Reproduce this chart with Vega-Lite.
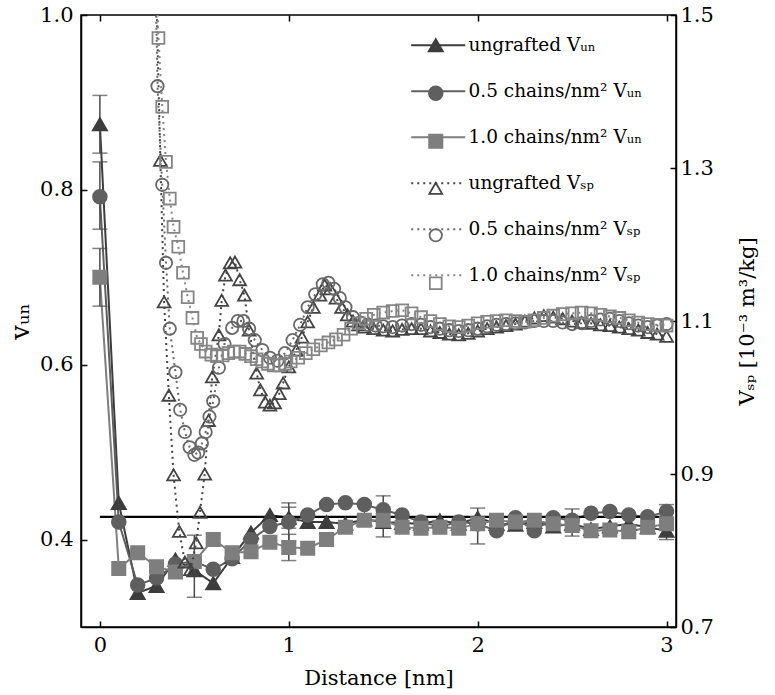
{
"$schema": "https://vega.github.io/schema/vega-lite/v6.json",
"width": 595, "height": 612, "autosize": "none",
"padding": {"left": 81, "top": 15, "right": 99, "bottom": 68},
"background": "white",
"config": {
  "font": "DejaVu Serif",
  "view": {"stroke": "black", "strokeWidth": 1.5},
  "axis": {"labelFont": "DejaVu Serif", "labelFontSize": 21, "labelColor": "black", "titleFont": "DejaVu Serif", "titleFontSize": 21, "titleFontWeight": "normal", "titleColor": "black", "domainColor": "black", "domainWidth": 1.5, "tickColor": "black", "tickWidth": 1.5, "tickSize": -6, "grid": false},
  "legend": {"labelFont": "DejaVu Serif", "labelFontSize": 18.5, "labelColor": "black"}
},
"datasets": {
  "un": [
    {"d":0.0,"v":0.875,"series":"ungrafted Vᵤₙ","m":"1"},{"d":0.1,"v":0.442,"series":"ungrafted Vᵤₙ","m":"1"},{"d":0.2,"v":0.339,"series":"ungrafted Vᵤₙ","m":"1"},{"d":0.3,"v":0.347,"series":"ungrafted Vᵤₙ","m":"1"},{"d":0.4,"v":0.377,"series":"ungrafted Vᵤₙ","m":"1"},{"d":0.5,"v":0.365,"series":"ungrafted Vᵤₙ","m":"1"},{"d":0.6,"v":0.35,"series":"ungrafted Vᵤₙ","m":"1"},{"d":0.7,"v":0.38,"series":"ungrafted Vᵤₙ","m":"1"},{"d":0.8,"v":0.408,"series":"ungrafted Vᵤₙ","m":"1"},{"d":0.9,"v":0.428,"series":"ungrafted Vᵤₙ","m":"1"},{"d":1.0,"v":0.425,"series":"ungrafted Vᵤₙ","m":"1"},{"d":1.1,"v":0.42,"series":"ungrafted Vᵤₙ","m":"1"},{"d":1.2,"v":0.42,"series":"ungrafted Vᵤₙ","m":"1"},{"d":1.3,"v":0.418,"series":"ungrafted Vᵤₙ","m":"1"},{"d":1.4,"v":0.423,"series":"ungrafted Vᵤₙ","m":"1"},{"d":1.5,"v":0.42,"series":"ungrafted Vᵤₙ","m":"1"},{"d":1.6,"v":0.419,"series":"ungrafted Vᵤₙ","m":"1"},{"d":1.7,"v":0.418,"series":"ungrafted Vᵤₙ","m":"1"},{"d":1.8,"v":0.422,"series":"ungrafted Vᵤₙ","m":"1"},{"d":1.9,"v":0.418,"series":"ungrafted Vᵤₙ","m":"1"},{"d":2.0,"v":0.425,"series":"ungrafted Vᵤₙ","m":"1"},{"d":2.1,"v":0.418,"series":"ungrafted Vᵤₙ","m":"1"},{"d":2.2,"v":0.417,"series":"ungrafted Vᵤₙ","m":"1"},{"d":2.3,"v":0.42,"series":"ungrafted Vᵤₙ","m":"1"},{"d":2.4,"v":0.415,"series":"ungrafted Vᵤₙ","m":"1"},{"d":2.5,"v":0.418,"series":"ungrafted Vᵤₙ","m":"1"},{"d":2.6,"v":0.412,"series":"ungrafted Vᵤₙ","m":"1"},{"d":2.7,"v":0.415,"series":"ungrafted Vᵤₙ","m":"1"},{"d":2.8,"v":0.418,"series":"ungrafted Vᵤₙ","m":"1"},{"d":2.9,"v":0.414,"series":"ungrafted Vᵤₙ","m":"1"},{"d":3.0,"v":0.41,"series":"ungrafted Vᵤₙ","m":"1"},
    {"d":0.0,"v":0.792,"series":"0.5 chains/nm² Vᵤₙ","m":"2"},{"d":0.1,"v":0.42,"series":"0.5 chains/nm² Vᵤₙ","m":"2"},{"d":0.2,"v":0.348,"series":"0.5 chains/nm² Vᵤₙ","m":"2"},{"d":0.3,"v":0.356,"series":"0.5 chains/nm² Vᵤₙ","m":"2"},{"d":0.4,"v":0.372,"series":"0.5 chains/nm² Vᵤₙ","m":"2"},{"d":0.5,"v":0.375,"series":"0.5 chains/nm² Vᵤₙ","m":"2"},{"d":0.6,"v":0.366,"series":"0.5 chains/nm² Vᵤₙ","m":"2"},{"d":0.7,"v":0.378,"series":"0.5 chains/nm² Vᵤₙ","m":"2"},{"d":0.8,"v":0.4,"series":"0.5 chains/nm² Vᵤₙ","m":"2"},{"d":0.9,"v":0.415,"series":"0.5 chains/nm² Vᵤₙ","m":"2"},{"d":1.0,"v":0.42,"series":"0.5 chains/nm² Vᵤₙ","m":"2"},{"d":1.1,"v":0.428,"series":"0.5 chains/nm² Vᵤₙ","m":"2"},{"d":1.2,"v":0.44,"series":"0.5 chains/nm² Vᵤₙ","m":"2"},{"d":1.3,"v":0.442,"series":"0.5 chains/nm² Vᵤₙ","m":"2"},{"d":1.4,"v":0.44,"series":"0.5 chains/nm² Vᵤₙ","m":"2"},{"d":1.5,"v":0.434,"series":"0.5 chains/nm² Vᵤₙ","m":"2"},{"d":1.6,"v":0.428,"series":"0.5 chains/nm² Vᵤₙ","m":"2"},{"d":1.7,"v":0.42,"series":"0.5 chains/nm² Vᵤₙ","m":"2"},{"d":1.8,"v":0.415,"series":"0.5 chains/nm² Vᵤₙ","m":"2"},{"d":1.9,"v":0.42,"series":"0.5 chains/nm² Vᵤₙ","m":"2"},{"d":2.0,"v":0.418,"series":"0.5 chains/nm² Vᵤₙ","m":"2"},{"d":2.1,"v":0.41,"series":"0.5 chains/nm² Vᵤₙ","m":"2"},{"d":2.2,"v":0.425,"series":"0.5 chains/nm² Vᵤₙ","m":"2"},{"d":2.3,"v":0.41,"series":"0.5 chains/nm² Vᵤₙ","m":"2"},{"d":2.4,"v":0.425,"series":"0.5 chains/nm² Vᵤₙ","m":"2"},{"d":2.5,"v":0.422,"series":"0.5 chains/nm² Vᵤₙ","m":"2"},{"d":2.6,"v":0.43,"series":"0.5 chains/nm² Vᵤₙ","m":"2"},{"d":2.7,"v":0.432,"series":"0.5 chains/nm² Vᵤₙ","m":"2"},{"d":2.8,"v":0.428,"series":"0.5 chains/nm² Vᵤₙ","m":"2"},{"d":2.9,"v":0.426,"series":"0.5 chains/nm² Vᵤₙ","m":"2"},{"d":3.0,"v":0.432,"series":"0.5 chains/nm² Vᵤₙ","m":"2"},
    {"d":0.0,"v":0.7,"series":"1.0 chains/nm² Vᵤₙ","m":"3"},{"d":0.1,"v":0.367,"series":"1.0 chains/nm² Vᵤₙ","m":"3"},{"d":0.2,"v":0.385,"series":"1.0 chains/nm² Vᵤₙ","m":"3"},{"d":0.3,"v":0.369,"series":"1.0 chains/nm² Vᵤₙ","m":"3"},{"d":0.4,"v":0.363,"series":"1.0 chains/nm² Vᵤₙ","m":"3"},{"d":0.5,"v":0.375,"series":"1.0 chains/nm² Vᵤₙ","m":"3"},{"d":0.6,"v":0.4,"series":"1.0 chains/nm² Vᵤₙ","m":"3"},{"d":0.7,"v":0.385,"series":"1.0 chains/nm² Vᵤₙ","m":"3"},{"d":0.8,"v":0.386,"series":"1.0 chains/nm² Vᵤₙ","m":"3"},{"d":0.9,"v":0.397,"series":"1.0 chains/nm² Vᵤₙ","m":"3"},{"d":1.0,"v":0.391,"series":"1.0 chains/nm² Vᵤₙ","m":"3"},{"d":1.1,"v":0.39,"series":"1.0 chains/nm² Vᵤₙ","m":"3"},{"d":1.2,"v":0.4,"series":"1.0 chains/nm² Vᵤₙ","m":"3"},{"d":1.3,"v":0.414,"series":"1.0 chains/nm² Vᵤₙ","m":"3"},{"d":1.4,"v":0.422,"series":"1.0 chains/nm² Vᵤₙ","m":"3"},{"d":1.5,"v":0.422,"series":"1.0 chains/nm² Vᵤₙ","m":"3"},{"d":1.6,"v":0.414,"series":"1.0 chains/nm² Vᵤₙ","m":"3"},{"d":1.7,"v":0.413,"series":"1.0 chains/nm² Vᵤₙ","m":"3"},{"d":1.8,"v":0.414,"series":"1.0 chains/nm² Vᵤₙ","m":"3"},{"d":1.9,"v":0.413,"series":"1.0 chains/nm² Vᵤₙ","m":"3"},{"d":2.0,"v":0.418,"series":"1.0 chains/nm² Vᵤₙ","m":"3"},{"d":2.1,"v":0.422,"series":"1.0 chains/nm² Vᵤₙ","m":"3"},{"d":2.2,"v":0.42,"series":"1.0 chains/nm² Vᵤₙ","m":"3"},{"d":2.3,"v":0.422,"series":"1.0 chains/nm² Vᵤₙ","m":"3"},{"d":2.4,"v":0.418,"series":"1.0 chains/nm² Vᵤₙ","m":"3"},{"d":2.5,"v":0.416,"series":"1.0 chains/nm² Vᵤₙ","m":"3"},{"d":2.6,"v":0.41,"series":"1.0 chains/nm² Vᵤₙ","m":"3"},{"d":2.7,"v":0.411,"series":"1.0 chains/nm² Vᵤₙ","m":"3"},{"d":2.8,"v":0.409,"series":"1.0 chains/nm² Vᵤₙ","m":"3"},{"d":2.9,"v":0.414,"series":"1.0 chains/nm² Vᵤₙ","m":"3"},{"d":3.0,"v":0.418,"series":"1.0 chains/nm² Vᵤₙ","m":"3"}
  ],
  "err": [
    {"d":0.0,"lo":0.842,"hi":0.908},{"d":0.0,"lo":0.755,"hi":0.832},{"d":0.0,"lo":0.667,"hi":0.733},
    {"d":0.5,"lo":0.334,"hi":0.405},
    {"d":1.0,"lo":0.413,"hi":0.437},{"d":1.0,"lo":0.398,"hi":0.442},{"d":1.0,"lo":0.376,"hi":0.406},
    {"d":1.5,"lo":0.403,"hi":0.45},{"d":2.0,"lo":0.395,"hi":0.436},{"d":2.5,"lo":0.404,"hi":0.435},{"d":3.0,"lo":0.4,"hi":0.44}
  ],
  "ref": [{"d":0.0,"v":0.426},{"d":3.0,"v":0.426}],
  "sp": [
    {"d":0.29,"V":1.62,"series":"ungrafted Vₛₚ","m":"4"},{"d":0.32,"V":1.31,"series":"ungrafted Vₛₚ","m":"4"},{"d":0.34,"V":1.125,"series":"ungrafted Vₛₚ","m":"4"},{"d":0.365,"V":1.003,"series":"ungrafted Vₛₚ","m":"4"},{"d":0.39,"V":0.899,"series":"ungrafted Vₛₚ","m":"4"},{"d":0.42,"V":0.825,"series":"ungrafted Vₛₚ","m":"4"},{"d":0.45,"V":0.785,"series":"ungrafted Vₛₚ","m":"4"},{"d":0.48,"V":0.775,"series":"ungrafted Vₛₚ","m":"4"},{"d":0.51,"V":0.81,"series":"ungrafted Vₛₚ","m":"4"},{"d":0.53,"V":0.85,"series":"ungrafted Vₛₚ","m":"4"},{"d":0.555,"V":0.9,"series":"ungrafted Vₛₚ","m":"4"},{"d":0.575,"V":0.97,"series":"ungrafted Vₛₚ","m":"4"},{"d":0.595,"V":1.027,"series":"ungrafted Vₛₚ","m":"4"},{"d":0.63,"V":1.082,"series":"ungrafted Vₛₚ","m":"4"},{"d":0.645,"V":1.127,"series":"ungrafted Vₛₚ","m":"4"},{"d":0.665,"V":1.16,"series":"ungrafted Vₛₚ","m":"4"},{"d":0.69,"V":1.176,"series":"ungrafted Vₛₚ","m":"4"},{"d":0.715,"V":1.177,"series":"ungrafted Vₛₚ","m":"4"},{"d":0.74,"V":1.154,"series":"ungrafted Vₛₚ","m":"4"},{"d":0.765,"V":1.134,"series":"ungrafted Vₛₚ","m":"4"},{"d":0.79,"V":1.088,"series":"ungrafted Vₛₚ","m":"4"},{"d":0.83,"V":1.032,"series":"ungrafted Vₛₚ","m":"4"},{"d":0.85,"V":1.01,"series":"ungrafted Vₛₚ","m":"4"},{"d":0.875,"V":0.994,"series":"ungrafted Vₛₚ","m":"4"},{"d":0.9,"V":0.99,"series":"ungrafted Vₛₚ","m":"4"},{"d":0.925,"V":0.993,"series":"ungrafted Vₛₚ","m":"4"},{"d":0.95,"V":1.005,"series":"ungrafted Vₛₚ","m":"4"},{"d":0.97,"V":1.019,"series":"ungrafted Vₛₚ","m":"4"},{"d":1.0,"V":1.04,"series":"ungrafted Vₛₚ","m":"4"},{"d":1.04,"V":1.062,"series":"ungrafted Vₛₚ","m":"4"},{"d":1.07,"V":1.079,"series":"ungrafted Vₛₚ","m":"4"},{"d":1.1,"V":1.099,"series":"ungrafted Vₛₚ","m":"4"},{"d":1.13,"V":1.118,"series":"ungrafted Vₛₚ","m":"4"},{"d":1.165,"V":1.134,"series":"ungrafted Vₛₚ","m":"4"},{"d":1.19,"V":1.147,"series":"ungrafted Vₛₚ","m":"4"},{"d":1.22,"V":1.142,"series":"ungrafted Vₛₚ","m":"4"},{"d":1.25,"V":1.13,"series":"ungrafted Vₛₚ","m":"4"},{"d":1.28,"V":1.118,"series":"ungrafted Vₛₚ","m":"4"},{"d":1.31,"V":1.108,"series":"ungrafted Vₛₚ","m":"4"},{"d":1.34,"V":1.1,"series":"ungrafted Vₛₚ","m":"4"},{"d":1.37,"V":1.095,"series":"ungrafted Vₛₚ","m":"4"},{"d":1.4,"V":1.092,"series":"ungrafted Vₛₚ","m":"4"},{"d":1.45,"V":1.09,"series":"ungrafted Vₛₚ","m":"4"},{"d":1.5,"V":1.088,"series":"ungrafted Vₛₚ","m":"4"},{"d":1.55,"V":1.087,"series":"ungrafted Vₛₚ","m":"4"},{"d":1.6,"V":1.089,"series":"ungrafted Vₛₚ","m":"4"},{"d":1.65,"V":1.09,"series":"ungrafted Vₛₚ","m":"4"},{"d":1.7,"V":1.09,"series":"ungrafted Vₛₚ","m":"4"},{"d":1.75,"V":1.087,"series":"ungrafted Vₛₚ","m":"4"},{"d":1.8,"V":1.085,"series":"ungrafted Vₛₚ","m":"4"},{"d":1.85,"V":1.083,"series":"ungrafted Vₛₚ","m":"4"},{"d":1.9,"V":1.082,"series":"ungrafted Vₛₚ","m":"4"},{"d":1.95,"V":1.084,"series":"ungrafted Vₛₚ","m":"4"},{"d":2.0,"V":1.087,"series":"ungrafted Vₛₚ","m":"4"},{"d":2.05,"V":1.09,"series":"ungrafted Vₛₚ","m":"4"},{"d":2.1,"V":1.092,"series":"ungrafted Vₛₚ","m":"4"},{"d":2.15,"V":1.094,"series":"ungrafted Vₛₚ","m":"4"},{"d":2.2,"V":1.096,"series":"ungrafted Vₛₚ","m":"4"},{"d":2.25,"V":1.1,"series":"ungrafted Vₛₚ","m":"4"},{"d":2.3,"V":1.104,"series":"ungrafted Vₛₚ","m":"4"},{"d":2.35,"V":1.107,"series":"ungrafted Vₛₚ","m":"4"},{"d":2.4,"V":1.105,"series":"ungrafted Vₛₚ","m":"4"},{"d":2.45,"V":1.103,"series":"ungrafted Vₛₚ","m":"4"},{"d":2.5,"V":1.1,"series":"ungrafted Vₛₚ","m":"4"},{"d":2.55,"V":1.098,"series":"ungrafted Vₛₚ","m":"4"},{"d":2.6,"V":1.097,"series":"ungrafted Vₛₚ","m":"4"},{"d":2.65,"V":1.095,"series":"ungrafted Vₛₚ","m":"4"},{"d":2.7,"V":1.094,"series":"ungrafted Vₛₚ","m":"4"},{"d":2.75,"V":1.092,"series":"ungrafted Vₛₚ","m":"4"},{"d":2.8,"V":1.09,"series":"ungrafted Vₛₚ","m":"4"},{"d":2.85,"V":1.088,"series":"ungrafted Vₛₚ","m":"4"},{"d":2.9,"V":1.085,"series":"ungrafted Vₛₚ","m":"4"},{"d":2.95,"V":1.083,"series":"ungrafted Vₛₚ","m":"4"},{"d":3.0,"V":1.08,"series":"ungrafted Vₛₚ","m":"4"},
    {"d":0.28,"V":1.75,"series":"0.5 chains/nm² Vₛₚ","m":"5"},{"d":0.305,"V":1.407,"series":"0.5 chains/nm² Vₛₚ","m":"5"},{"d":0.33,"V":1.278,"series":"0.5 chains/nm² Vₛₚ","m":"5"},{"d":0.35,"V":1.176,"series":"0.5 chains/nm² Vₛₚ","m":"5"},{"d":0.37,"V":1.09,"series":"0.5 chains/nm² Vₛₚ","m":"5"},{"d":0.4,"V":1.033,"series":"0.5 chains/nm² Vₛₚ","m":"5"},{"d":0.425,"V":0.984,"series":"0.5 chains/nm² Vₛₚ","m":"5"},{"d":0.45,"V":0.955,"series":"0.5 chains/nm² Vₛₚ","m":"5"},{"d":0.475,"V":0.935,"series":"0.5 chains/nm² Vₛₚ","m":"5"},{"d":0.5,"V":0.925,"series":"0.5 chains/nm² Vₛₚ","m":"5"},{"d":0.52,"V":0.928,"series":"0.5 chains/nm² Vₛₚ","m":"5"},{"d":0.54,"V":0.94,"series":"0.5 chains/nm² Vₛₚ","m":"5"},{"d":0.56,"V":0.955,"series":"0.5 chains/nm² Vₛₚ","m":"5"},{"d":0.58,"V":0.975,"series":"0.5 chains/nm² Vₛₚ","m":"5"},{"d":0.6,"V":0.995,"series":"0.5 chains/nm² Vₛₚ","m":"5"},{"d":0.63,"V":1.039,"series":"0.5 chains/nm² Vₛₚ","m":"5"},{"d":0.66,"V":1.07,"series":"0.5 chains/nm² Vₛₚ","m":"5"},{"d":0.7,"V":1.091,"series":"0.5 chains/nm² Vₛₚ","m":"5"},{"d":0.73,"V":1.1,"series":"0.5 chains/nm² Vₛₚ","m":"5"},{"d":0.76,"V":1.1,"series":"0.5 chains/nm² Vₛₚ","m":"5"},{"d":0.79,"V":1.09,"series":"0.5 chains/nm² Vₛₚ","m":"5"},{"d":0.82,"V":1.075,"series":"0.5 chains/nm² Vₛₚ","m":"5"},{"d":0.86,"V":1.062,"series":"0.5 chains/nm² Vₛₚ","m":"5"},{"d":0.9,"V":1.052,"series":"0.5 chains/nm² Vₛₚ","m":"5"},{"d":0.94,"V":1.048,"series":"0.5 chains/nm² Vₛₚ","m":"5"},{"d":0.98,"V":1.058,"series":"0.5 chains/nm² Vₛₚ","m":"5"},{"d":1.02,"V":1.075,"series":"0.5 chains/nm² Vₛₚ","m":"5"},{"d":1.06,"V":1.095,"series":"0.5 chains/nm² Vₛₚ","m":"5"},{"d":1.1,"V":1.118,"series":"0.5 chains/nm² Vₛₚ","m":"5"},{"d":1.14,"V":1.135,"series":"0.5 chains/nm² Vₛₚ","m":"5"},{"d":1.18,"V":1.148,"series":"0.5 chains/nm² Vₛₚ","m":"5"},{"d":1.21,"V":1.15,"series":"0.5 chains/nm² Vₛₚ","m":"5"},{"d":1.24,"V":1.142,"series":"0.5 chains/nm² Vₛₚ","m":"5"},{"d":1.27,"V":1.13,"series":"0.5 chains/nm² Vₛₚ","m":"5"},{"d":1.3,"V":1.118,"series":"0.5 chains/nm² Vₛₚ","m":"5"},{"d":1.34,"V":1.105,"series":"0.5 chains/nm² Vₛₚ","m":"5"},{"d":1.38,"V":1.098,"series":"0.5 chains/nm² Vₛₚ","m":"5"},{"d":1.42,"V":1.095,"series":"0.5 chains/nm² Vₛₚ","m":"5"},{"d":1.46,"V":1.094,"series":"0.5 chains/nm² Vₛₚ","m":"5"},{"d":1.5,"V":1.093,"series":"0.5 chains/nm² Vₛₚ","m":"5"},{"d":1.55,"V":1.092,"series":"0.5 chains/nm² Vₛₚ","m":"5"},{"d":1.6,"V":1.094,"series":"0.5 chains/nm² Vₛₚ","m":"5"},{"d":1.65,"V":1.096,"series":"0.5 chains/nm² Vₛₚ","m":"5"},{"d":1.7,"V":1.095,"series":"0.5 chains/nm² Vₛₚ","m":"5"},{"d":1.75,"V":1.092,"series":"0.5 chains/nm² Vₛₚ","m":"5"},{"d":1.8,"V":1.09,"series":"0.5 chains/nm² Vₛₚ","m":"5"},{"d":1.85,"V":1.088,"series":"0.5 chains/nm² Vₛₚ","m":"5"},{"d":1.9,"V":1.087,"series":"0.5 chains/nm² Vₛₚ","m":"5"},{"d":1.95,"V":1.088,"series":"0.5 chains/nm² Vₛₚ","m":"5"},{"d":2.0,"V":1.09,"series":"0.5 chains/nm² Vₛₚ","m":"5"},{"d":2.05,"V":1.093,"series":"0.5 chains/nm² Vₛₚ","m":"5"},{"d":2.1,"V":1.095,"series":"0.5 chains/nm² Vₛₚ","m":"5"},{"d":2.15,"V":1.096,"series":"0.5 chains/nm² Vₛₚ","m":"5"},{"d":2.2,"V":1.097,"series":"0.5 chains/nm² Vₛₚ","m":"5"},{"d":2.25,"V":1.098,"series":"0.5 chains/nm² Vₛₚ","m":"5"},{"d":2.3,"V":1.1,"series":"0.5 chains/nm² Vₛₚ","m":"5"},{"d":2.35,"V":1.1,"series":"0.5 chains/nm² Vₛₚ","m":"5"},{"d":2.4,"V":1.1,"series":"0.5 chains/nm² Vₛₚ","m":"5"},{"d":2.45,"V":1.098,"series":"0.5 chains/nm² Vₛₚ","m":"5"},{"d":2.5,"V":1.096,"series":"0.5 chains/nm² Vₛₚ","m":"5"},{"d":2.55,"V":1.097,"series":"0.5 chains/nm² Vₛₚ","m":"5"},{"d":2.6,"V":1.1,"series":"0.5 chains/nm² Vₛₚ","m":"5"},{"d":2.65,"V":1.102,"series":"0.5 chains/nm² Vₛₚ","m":"5"},{"d":2.7,"V":1.103,"series":"0.5 chains/nm² Vₛₚ","m":"5"},{"d":2.75,"V":1.1,"series":"0.5 chains/nm² Vₛₚ","m":"5"},{"d":2.8,"V":1.097,"series":"0.5 chains/nm² Vₛₚ","m":"5"},{"d":2.85,"V":1.094,"series":"0.5 chains/nm² Vₛₚ","m":"5"},{"d":2.9,"V":1.092,"series":"0.5 chains/nm² Vₛₚ","m":"5"},{"d":2.95,"V":1.094,"series":"0.5 chains/nm² Vₛₚ","m":"5"},{"d":3.0,"V":1.096,"series":"0.5 chains/nm² Vₛₚ","m":"5"},
    {"d":0.285,"V":1.65,"series":"1.0 chains/nm² Vₛₚ","m":"6"},{"d":0.31,"V":1.47,"series":"1.0 chains/nm² Vₛₚ","m":"6"},{"d":0.33,"V":1.38,"series":"1.0 chains/nm² Vₛₚ","m":"6"},{"d":0.35,"V":1.308,"series":"1.0 chains/nm² Vₛₚ","m":"6"},{"d":0.37,"V":1.26,"series":"1.0 chains/nm² Vₛₚ","m":"6"},{"d":0.39,"V":1.223,"series":"1.0 chains/nm² Vₛₚ","m":"6"},{"d":0.415,"V":1.197,"series":"1.0 chains/nm² Vₛₚ","m":"6"},{"d":0.44,"V":1.163,"series":"1.0 chains/nm² Vₛₚ","m":"6"},{"d":0.465,"V":1.131,"series":"1.0 chains/nm² Vₛₚ","m":"6"},{"d":0.49,"V":1.104,"series":"1.0 chains/nm² Vₛₚ","m":"6"},{"d":0.515,"V":1.078,"series":"1.0 chains/nm² Vₛₚ","m":"6"},{"d":0.535,"V":1.07,"series":"1.0 chains/nm² Vₛₚ","m":"6"},{"d":0.56,"V":1.06,"series":"1.0 chains/nm² Vₛₚ","m":"6"},{"d":0.59,"V":1.056,"series":"1.0 chains/nm² Vₛₚ","m":"6"},{"d":0.62,"V":1.054,"series":"1.0 chains/nm² Vₛₚ","m":"6"},{"d":0.65,"V":1.055,"series":"1.0 chains/nm² Vₛₚ","m":"6"},{"d":0.68,"V":1.058,"series":"1.0 chains/nm² Vₛₚ","m":"6"},{"d":0.71,"V":1.06,"series":"1.0 chains/nm² Vₛₚ","m":"6"},{"d":0.74,"V":1.06,"series":"1.0 chains/nm² Vₛₚ","m":"6"},{"d":0.77,"V":1.057,"series":"1.0 chains/nm² Vₛₚ","m":"6"},{"d":0.8,"V":1.054,"series":"1.0 chains/nm² Vₛₚ","m":"6"},{"d":0.83,"V":1.05,"series":"1.0 chains/nm² Vₛₚ","m":"6"},{"d":0.86,"V":1.047,"series":"1.0 chains/nm² Vₛₚ","m":"6"},{"d":0.89,"V":1.044,"series":"1.0 chains/nm² Vₛₚ","m":"6"},{"d":0.92,"V":1.042,"series":"1.0 chains/nm² Vₛₚ","m":"6"},{"d":0.95,"V":1.042,"series":"1.0 chains/nm² Vₛₚ","m":"6"},{"d":0.98,"V":1.044,"series":"1.0 chains/nm² Vₛₚ","m":"6"},{"d":1.01,"V":1.047,"series":"1.0 chains/nm² Vₛₚ","m":"6"},{"d":1.05,"V":1.052,"series":"1.0 chains/nm² Vₛₚ","m":"6"},{"d":1.09,"V":1.058,"series":"1.0 chains/nm² Vₛₚ","m":"6"},{"d":1.13,"V":1.063,"series":"1.0 chains/nm² Vₛₚ","m":"6"},{"d":1.17,"V":1.068,"series":"1.0 chains/nm² Vₛₚ","m":"6"},{"d":1.21,"V":1.072,"series":"1.0 chains/nm² Vₛₚ","m":"6"},{"d":1.25,"V":1.076,"series":"1.0 chains/nm² Vₛₚ","m":"6"},{"d":1.29,"V":1.082,"series":"1.0 chains/nm² Vₛₚ","m":"6"},{"d":1.33,"V":1.09,"series":"1.0 chains/nm² Vₛₚ","m":"6"},{"d":1.37,"V":1.097,"series":"1.0 chains/nm² Vₛₚ","m":"6"},{"d":1.41,"V":1.103,"series":"1.0 chains/nm² Vₛₚ","m":"6"},{"d":1.45,"V":1.108,"series":"1.0 chains/nm² Vₛₚ","m":"6"},{"d":1.5,"V":1.111,"series":"1.0 chains/nm² Vₛₚ","m":"6"},{"d":1.55,"V":1.113,"series":"1.0 chains/nm² Vₛₚ","m":"6"},{"d":1.6,"V":1.114,"series":"1.0 chains/nm² Vₛₚ","m":"6"},{"d":1.65,"V":1.11,"series":"1.0 chains/nm² Vₛₚ","m":"6"},{"d":1.7,"V":1.105,"series":"1.0 chains/nm² Vₛₚ","m":"6"},{"d":1.75,"V":1.1,"series":"1.0 chains/nm² Vₛₚ","m":"6"},{"d":1.8,"V":1.096,"series":"1.0 chains/nm² Vₛₚ","m":"6"},{"d":1.85,"V":1.093,"series":"1.0 chains/nm² Vₛₚ","m":"6"},{"d":1.9,"V":1.092,"series":"1.0 chains/nm² Vₛₚ","m":"6"},{"d":1.95,"V":1.094,"series":"1.0 chains/nm² Vₛₚ","m":"6"},{"d":2.0,"V":1.097,"series":"1.0 chains/nm² Vₛₚ","m":"6"},{"d":2.05,"V":1.099,"series":"1.0 chains/nm² Vₛₚ","m":"6"},{"d":2.1,"V":1.1,"series":"1.0 chains/nm² Vₛₚ","m":"6"},{"d":2.15,"V":1.101,"series":"1.0 chains/nm² Vₛₚ","m":"6"},{"d":2.2,"V":1.1,"series":"1.0 chains/nm² Vₛₚ","m":"6"},{"d":2.25,"V":1.099,"series":"1.0 chains/nm² Vₛₚ","m":"6"},{"d":2.3,"V":1.101,"series":"1.0 chains/nm² Vₛₚ","m":"6"},{"d":2.35,"V":1.104,"series":"1.0 chains/nm² Vₛₚ","m":"6"},{"d":2.4,"V":1.107,"series":"1.0 chains/nm² Vₛₚ","m":"6"},{"d":2.45,"V":1.109,"series":"1.0 chains/nm² Vₛₚ","m":"6"},{"d":2.5,"V":1.11,"series":"1.0 chains/nm² Vₛₚ","m":"6"},{"d":2.55,"V":1.111,"series":"1.0 chains/nm² Vₛₚ","m":"6"},{"d":2.6,"V":1.11,"series":"1.0 chains/nm² Vₛₚ","m":"6"},{"d":2.65,"V":1.108,"series":"1.0 chains/nm² Vₛₚ","m":"6"},{"d":2.7,"V":1.106,"series":"1.0 chains/nm² Vₛₚ","m":"6"},{"d":2.75,"V":1.104,"series":"1.0 chains/nm² Vₛₚ","m":"6"},{"d":2.8,"V":1.101,"series":"1.0 chains/nm² Vₛₚ","m":"6"},{"d":2.85,"V":1.098,"series":"1.0 chains/nm² Vₛₚ","m":"6"},{"d":2.9,"V":1.096,"series":"1.0 chains/nm² Vₛₚ","m":"6"},{"d":2.95,"V":1.095,"series":"1.0 chains/nm² Vₛₚ","m":"6"},{"d":3.0,"V":1.094,"series":"1.0 chains/nm² Vₛₚ","m":"6"}
  ]
},
"layer": [
  {
    "layer": [
      {
        "data": {"name": "un"},
        "mark": {"type": "line", "strokeWidth": 2},
        "encoding": {
          "x": {"field": "d", "type": "quantitative", "title": "Distance [nm]", "scale": {"domain": [-0.1, 3.05], "nice": false, "zero": false}, "axis": {"orient": "bottom", "values": [0, 1, 2, 3], "format": "d", "labelPadding": 13, "titlePadding": 12}},
          "y": {"field": "v", "type": "quantitative", "title": "vᵤₙ", "scale": {"domain": [0.3, 1.0], "nice": false, "zero": false}, "axis": {"orient": "left", "values": [0.4, 0.6, 0.8, 1.0], "format": ".1f", "labelPadding": 14, "titlePadding": 6, "titleFontSize": 26}},
          "color": {"field": "series", "type": "nominal", "scale": {"domain": ["ungrafted Vᵤₙ", "0.5 chains/nm² Vᵤₙ", "1.0 chains/nm² Vᵤₙ", "ungrafted Vₛₚ", "0.5 chains/nm² Vₛₚ", "1.0 chains/nm² Vₛₚ"], "range": ["#3d3d3d", "#5f5f5f", "#7e7e7e", "#444444", "#686868", "#858585"]}, "legend": {"orient": "none", "legendX": 348, "legendY": 21, "title": null, "padding": 0, "symbolType": "M-5.4,0H5.4", "symbolSize": 100, "symbolStrokeWidth": 2, "labelOffset": 21, "rowPadding": 27, "labelLimit": 400}},
          "strokeDash": {"field": "series", "type": "nominal", "scale": {"domain": ["ungrafted Vᵤₙ", "0.5 chains/nm² Vᵤₙ", "1.0 chains/nm² Vᵤₙ", "ungrafted Vₛₚ", "0.5 chains/nm² Vₛₚ", "1.0 chains/nm² Vₛₚ"], "range": [[1, 0], [1, 0], [1, 0], [2, 4], [2, 4], [2, 4]]}}
        }
      },
      {
        "data": {"name": "err"},
        "mark": {"type": "errorbar", "ticks": {"size": 15}, "color": "#4a4a4a", "thickness": 1.5},
        "encoding": {
          "x": {"field": "d", "type": "quantitative", "title": "Distance [nm]"},
          "y": {"field": "lo", "type": "quantitative", "title": "vᵤₙ"},
          "y2": {"field": "hi"}
        }
      },
      {
        "data": {"name": "ref"},
        "mark": {"type": "line", "color": "black", "strokeWidth": 2.2},
        "encoding": {
          "x": {"field": "d", "type": "quantitative", "title": "Distance [nm]"},
          "y": {"field": "v", "type": "quantitative", "title": "vᵤₙ"}
        }
      },
      {
        "data": {"name": "un"},
        "mark": {"type": "point", "filled": true, "strokeWidth": 1.8, "opacity": 1},
        "encoding": {
          "x": {"field": "d", "type": "quantitative", "title": "Distance [nm]"},
          "y": {"field": "v", "type": "quantitative", "title": "vᵤₙ"},
          "shape": {"field": "m", "type": "nominal", "scale": {"domain": ["1", "2", "3", "4", "5", "6"], "range": ["triangle-up", "circle", "square", "triangle-up", "circle", "square"]}, "legend": {"orient": "none", "legendX": 345.5, "legendY": 21, "title": null, "padding": 0, "labelOpacity": 0, "rowPadding": 27, "symbolStrokeWidth": 1.8}},
          "fill": {"field": "m", "type": "nominal", "scale": {"domain": ["1", "2", "3", "4", "5", "6"], "range": ["#3d3d3d", "#5f5f5f", "#7e7e7e", "transparent", "transparent", "transparent"]}},
          "stroke": {"field": "m", "type": "nominal", "scale": {"domain": ["1", "2", "3", "4", "5", "6"], "range": ["#3d3d3d", "#5f5f5f", "#7e7e7e", "#444444", "#686868", "#858585"]}},
          "size": {"field": "m", "type": "nominal", "scale": {"domain": ["1", "2", "3", "4", "5", "6"], "range": [200, 140, 190, 160, 100, 125]}}
        }
      }
    ]
  },
  {
    "layer": [
      {
        "data": {"name": "sp"},
        "mark": {"type": "line", "strokeWidth": 2, "clip": true},
        "encoding": {
          "x": {"field": "d", "type": "quantitative", "scale": {"domain": [-0.1, 3.05], "nice": false, "zero": false}, "axis": {"orient": "top", "values": [0, 1, 2, 3], "labels": false, "title": null, "domain": false}},
          "y": {"field": "V", "type": "quantitative", "title": "Vₛₚ [10⁻³ m³/kg]", "scale": {"domain": [0.7, 1.5], "nice": false, "zero": false}, "axis": {"orient": "right", "values": [0.7, 0.9, 1.1, 1.3, 1.5], "format": ".1f", "labelPadding": 10, "titlePadding": 44, "titleAngle": 270}},
          "color": {"field": "series", "type": "nominal", "scale": {"domain": ["ungrafted Vᵤₙ", "0.5 chains/nm² Vᵤₙ", "1.0 chains/nm² Vᵤₙ", "ungrafted Vₛₚ", "0.5 chains/nm² Vₛₚ", "1.0 chains/nm² Vₛₚ"], "range": ["#3d3d3d", "#5f5f5f", "#7e7e7e", "#444444", "#686868", "#858585"]}},
          "strokeDash": {"field": "series", "type": "nominal", "scale": {"domain": ["ungrafted Vᵤₙ", "0.5 chains/nm² Vᵤₙ", "1.0 chains/nm² Vᵤₙ", "ungrafted Vₛₚ", "0.5 chains/nm² Vₛₚ", "1.0 chains/nm² Vₛₚ"], "range": [[1, 0], [1, 0], [1, 0], [2, 4], [2, 4], [2, 4]]}}
        }
      },
      {
        "data": {"name": "sp"},
        "mark": {"type": "point", "filled": true, "strokeWidth": 1.8, "opacity": 1, "clip": true},
        "encoding": {
          "x": {"field": "d", "type": "quantitative"},
          "y": {"field": "V", "type": "quantitative", "title": "Vₛₚ [10⁻³ m³/kg]"},
          "shape": {"field": "m", "type": "nominal", "scale": {"domain": ["1", "2", "3", "4", "5", "6"], "range": ["triangle-up", "circle", "square", "triangle-up", "circle", "square"]}},
          "fill": {"field": "m", "type": "nominal", "scale": {"domain": ["1", "2", "3", "4", "5", "6"], "range": ["#3d3d3d", "#5f5f5f", "#7e7e7e", "transparent", "transparent", "transparent"]}},
          "stroke": {"field": "m", "type": "nominal", "scale": {"domain": ["1", "2", "3", "4", "5", "6"], "range": ["#3d3d3d", "#5f5f5f", "#7e7e7e", "#444444", "#686868", "#858585"]}},
          "size": {"field": "m", "type": "nominal", "scale": {"domain": ["1", "2", "3", "4", "5", "6"], "range": [200, 140, 190, 160, 100, 125]}}
        }
      }
    ]
  }
],
"resolve": {"scale": {"y": "independent"}, "axis": {"x": "independent"}}
}
